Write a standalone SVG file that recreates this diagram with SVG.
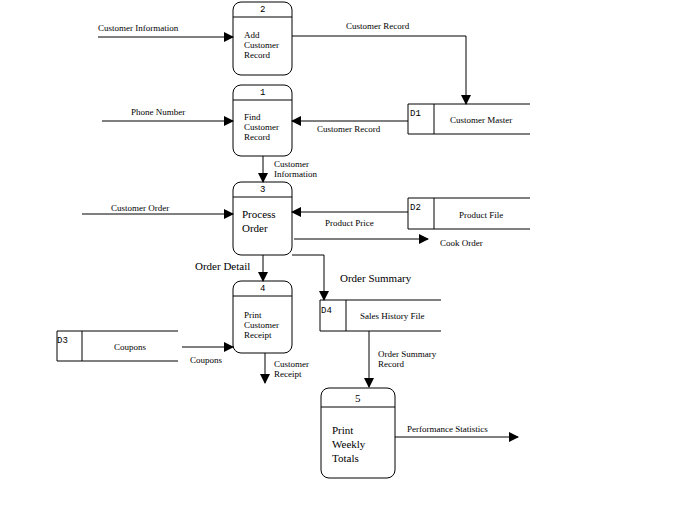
<svg xmlns="http://www.w3.org/2000/svg" width="678" height="512" viewBox="0 0 678 512">
<defs>
<marker id="ah" markerWidth="10" markerHeight="10" refX="9" refY="5" orient="auto" markerUnits="userSpaceOnUse"><path d="M0,0 L10,5 L0,10 Z" fill="#000"/></marker>
<style>
.p{fill:#fff;stroke:#000;stroke-width:1}
.l{fill:none;stroke:#000;stroke-width:1}
.c{fill:none;stroke:#000;stroke-width:1;marker-end:url(#ah)}
text{font-family:"Liberation Serif","Times New Roman",serif;font-size:9px;fill:#000}
text.m{font-family:"Liberation Mono",monospace;font-size:9px}
text.b{font-family:"Liberation Serif","Times New Roman",serif;font-size:11px}
</style>
</defs>
<rect width="678" height="512" fill="#fff"/>
<g id="p2"><rect class="p" x="233" y="2" width="59" height="73" rx="8"/><line class="l" x1="233" y1="17" x2="292" y2="17"/><text class="m" x="260" y="12">2</text><text x="244" y="38">Add</text><text x="244" y="48">Customer</text><text x="244" y="58">Record</text></g>
<g id="p1"><rect class="p" x="233" y="85" width="59" height="71" rx="8"/><line class="l" x1="233" y1="100" x2="292" y2="100"/><text class="m" x="260" y="95">1</text><text x="244" y="120">Find</text><text x="244" y="130">Customer</text><text x="244" y="140">Record</text></g>
<g id="p3"><rect class="p" x="233" y="182" width="59" height="73" rx="8"/><line class="l" x1="233" y1="197" x2="292" y2="197"/><text class="m" x="260" y="192">3</text><text class="b" x="242" y="218">Process</text><text class="b" x="242" y="232">Order</text></g>
<g id="p4"><rect class="p" x="233" y="281" width="59" height="72" rx="8"/><line class="l" x1="233" y1="296" x2="292" y2="296"/><text class="m" x="260" y="291">4</text><text x="244" y="318">Print</text><text x="244" y="328">Customer</text><text x="244" y="338">Receipt</text></g>
<g id="p5"><rect class="p" x="321" y="388" width="74" height="90" rx="8"/><line class="l" x1="321" y1="407" x2="395" y2="407"/><text class="b" x="355" y="402">5</text><text class="b" x="332" y="434">Print</text><text class="b" x="332" y="448">Weekly</text><text class="b" x="332" y="462">Totals</text></g>
<g id="d1"><path class="l" d="M530,104 H408 V134 H530 M434,104 V134"/><text class="m" x="410" y="116">D1</text><text x="450" y="123">Customer Master</text></g>
<g id="d2"><path class="l" d="M530,198 H408 V229 H530 M434,198 V229"/><text class="m" x="410" y="210">D2</text><text x="459" y="218">Product File</text></g>
<g id="d4"><path class="l" d="M441,300 H320 V331 H441 M346,300 V331"/><text class="m" x="321" y="313">D4</text><text x="360" y="319">Sales History File</text></g>
<g id="d3"><path class="l" d="M178,331 H57 V361 H178 M82,331 V361"/><text class="m" x="57" y="343">D3</text><text x="114" y="350">Coupons</text></g>
<g id="connectors">
<path class="c" d="M98,37 H233"/>
<path class="c" d="M292,36 H466 V104"/>
<path class="c" d="M102,121 H233"/>
<path class="c" d="M408,121 H292"/>
<path class="c" d="M263,156 V182"/>
<path class="c" d="M82,214 H233"/>
<path class="c" d="M408,212 H292"/>
<path class="c" d="M294,239 H428"/>
<path class="c" d="M263,255 V281"/>
<path class="c" d="M292,255 H324 V300"/>
<path class="c" d="M182,347 H233"/>
<path class="c" d="M265,353 V383"/>
<path class="c" d="M369,331 V387"/>
<path class="c" d="M395,437 H518"/>
</g>
<g id="labels">
<text x="98" y="31">Customer Information</text>
<text x="346" y="29">Customer Record</text>
<text x="131" y="115">Phone Number</text>
<text x="317" y="132">Customer Record</text>
<text x="274" y="167">Customer</text><text x="274" y="177">Information</text>
<text x="111" y="211">Customer Order</text>
<text x="325" y="226">Product Price</text>
<text x="440" y="246">Cook Order</text>
<text class="b" x="195" y="270">Order Detail</text>
<text class="b" x="340" y="282">Order Summary</text>
<text x="190" y="363">Coupons</text>
<text x="274" y="367">Customer</text><text x="274" y="377">Receipt</text>
<text x="378" y="357">Order Summary</text><text x="378" y="367">Record</text>
<text x="407" y="432">Performance Statistics</text>
</g>
</svg>
